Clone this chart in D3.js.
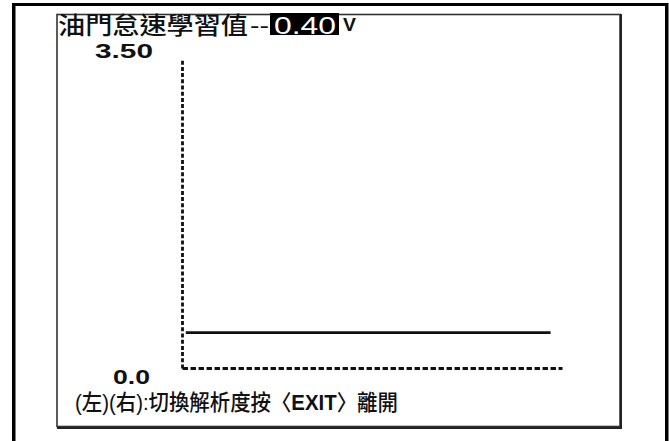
<!DOCTYPE html>
<html><head><meta charset="utf-8">
<script src="https://cdn.jsdelivr.net/npm/d3@7/dist/d3.min.js"></script>
<style>
html,body{margin:0;padding:0;background:#fff;}
svg{display:block;}
</style></head>
<body>
<script>
// ---- data ----
const titleText = "油門怠速學習值";
const titleSep = "--";
const currentValue = 0.40;
const unitLabel = "V";
const yDomain = [0, 3.5];
const yTickValues = [0, 3.5];
const yTickLabels = ["0.0", "3.50"];
const xDomain = [0, 100];
const sampleTimes = [1, 97];
const sampleValues = [0.40, 0.40];
const footerParts = [
  {t: "(左)(右):切換解析度按〈", bold: false},
  {t: "EXIT", bold: true},
  {t: "〉離開", bold: false}
];

const W = 669, H = 441;
const svg = d3.select("body").append("svg").attr("width", W).attr("height", H);

// fit a text element horizontally into a given width by scaling x
function fitText(g, text, x0, y0, width) {
  const w = text.node().getComputedTextLength();
  g.attr("transform", `translate(${x0},${y0}) scale(${width / w},1)`);
}

// outer frame
svg.append("rect").attr("x", 12).attr("y", 3).attr("width", 656).attr("height", 3).attr("fill", "#000");
svg.append("rect").attr("x", 12).attr("y", 3).attr("width", 3.5).attr("height", H).attr("fill", "#000");
svg.append("rect").attr("x", 665).attr("y", 3).attr("width", 3.5).attr("height", H).attr("fill", "#000");

// inner panel
svg.append("rect").attr("x", 57).attr("y", 14.5).attr("width", 563).attr("height", 412)
  .attr("fill", "#fff").attr("stroke", "#333").attr("stroke-width", 1.6);
svg.append("line").attr("x1", 57).attr("x2", 621).attr("y1", 428).attr("y2", 428).attr("stroke", "#222").attr("stroke-width", 2);
svg.append("line").attr("x1", 621).attr("x2", 621).attr("y1", 14).attr("y2", 429).attr("stroke", "#222").attr("stroke-width", 2);

const cjk = "'Liberation Sans','Noto Sans CJK TC',Arial,sans-serif";
const latin = "'Liberation Sans',Arial,sans-serif";

// title
const gT = svg.append("g");
const tT = gT.append("text").attr("x", 0).attr("y", 0)
  .attr("font-family", cjk).attr("font-size", 24).attr("font-weight", 500)
  .attr("fill", "#111").text(titleText);
fitText(gT, tT, 58, 34, 190);
const gS = svg.append("g");
const tS = gS.append("text").attr("font-family", latin).attr("font-size", 22)
  .attr("fill", "#111").text(titleSep);
fitText(gS, tS, 250, 33, 19);

// value box
const boxX = 270, boxW = 69;
svg.append("rect").attr("x", boxX).attr("y", 13).attr("width", boxW).attr("height", 22).attr("fill", "#000");
const gV = svg.append("g");
const tV = gV.append("text").attr("font-family", latin).attr("font-size", 24)
  .attr("fill", "#fff").text(currentValue.toFixed(2));
fitText(gV, tV, boxX + 4, 33.5, 62);
const gU = svg.append("g");
const tU = gU.append("text").attr("font-family", latin).attr("font-size", 18).attr("font-weight", "bold")
  .attr("fill", "#111").text(unitLabel);
fitText(gU, tU, 343, 31, 13);

// scales
const x = d3.scaleLinear().domain(xDomain).range([182, 562]);
const y = d3.scaleLinear().domain(yDomain).range([368, 58]);

// axes (dashed)
const yAxis = d3.axisLeft(y).tickValues(yTickValues).tickSize(0).tickFormat("");
const gy = svg.append("g").attr("transform", `translate(${x(xDomain[0])},0)`).call(yAxis);
gy.select(".domain").attr("stroke", "#111").attr("stroke-width", 2.8).attr("stroke-dasharray", "4,2.2");

const xAxis = d3.axisBottom(x).tickValues([]).tickSize(0);
const gx = svg.append("g").attr("transform", `translate(0,${y(0)})`).call(xAxis);
gx.select(".domain").attr("stroke", "#111").attr("stroke-width", 2.8).attr("stroke-dasharray", "5.5,2.5");

// tick labels
const labW = [37, 58];
const labRight = [150, 153];
yTickValues.forEach((d, i) => {
  const g = svg.append("g");
  const t = g.append("text").attr("font-family", latin).attr("font-size", 20).attr("font-weight", "bold")
    .attr("fill", "#111").text(yTickLabels[i]);
  fitText(g, t, labRight[i] - labW[i], d === 0 ? y(d) + 15.5 : y(d) - 0.5, labW[i]);
});

// data line
const pts = sampleTimes.map((t, i) => [t, sampleValues[i]]);
svg.append("path").datum(pts)
  .attr("d", d3.line().x(d => x(d[0])).y(d => y(d[1])))
  .attr("stroke", "#111").attr("stroke-width", 2.8).attr("fill", "none");

// footer
const gF = svg.append("g");
const ft = gF.append("text")
  .attr("font-family", cjk).attr("font-size", 22).attr("fill", "#111");
ft.selectAll("tspan").data(footerParts).enter().append("tspan")
  .attr("font-weight", d => d.bold ? "bold" : 500)
  .text(d => d.t);
fitText(gF, ft, 75, 409.5, 323);
</script>
</body></html>
